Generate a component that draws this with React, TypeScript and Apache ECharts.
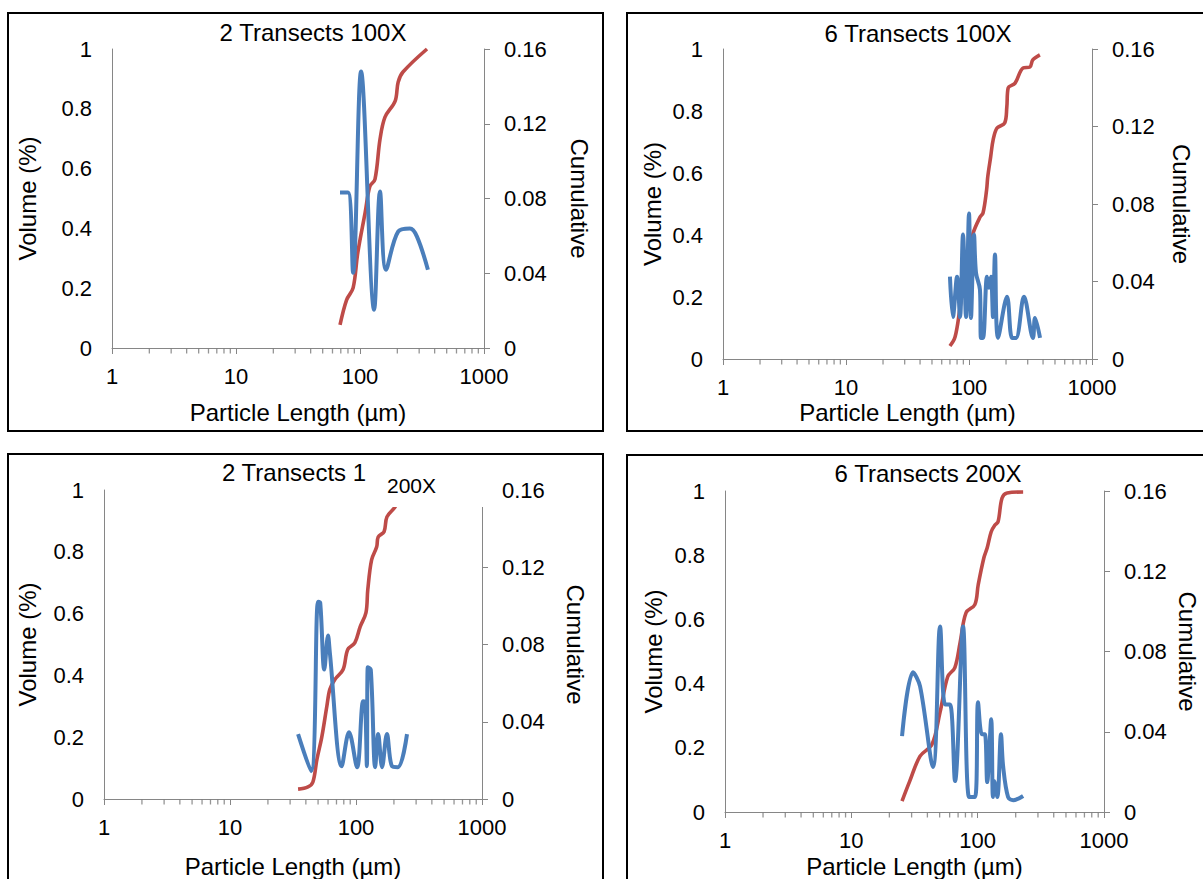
import { useEffect, useRef } from "react";
import * as echarts from "echarts";

// ---------- text ----------
const TITLES = ["2 Transects 100X", "6 Transects 100X", "2 Transects 1", "6 Transects 200X"];
const OVERLAY_LABEL = "200X";
const X_TITLE = "Particle Length (µm)";
const Y_LEFT_TITLE = "Volume (%)";
const Y_RIGHT_TITLE = "Cumulative";

// ---------- axes ----------
const MINOR_TICKS = [2, 3, 4, 5, 6, 7, 8, 9, 20, 30, 40, 50, 60, 70, 80, 90, 200, 300, 400, 500, 600, 700, 800, 900];

// ---------- data: panel 1 (2 Transects 100X) ----------
const BLUE_X_1 = [69, 80, 88, 102, 130, 145, 162, 203, 253, 288, 353];
const BLUE_Y_1 = [0.0832, 0.0832, 0.0403, 0.148, 0.0205, 0.0837, 0.0419, 0.0623, 0.0639, 0.0596, 0.0419];
const RED_X_1 = [69, 78, 88, 96, 110, 120, 132, 145, 159, 192, 203, 222, 347];
const RED_Y_1 = [0.077, 0.161, 0.201, 0.319, 0.453, 0.54, 0.564, 0.698, 0.772, 0.826, 0.889, 0.923, 1.0];

// ---------- data: panel 2 (6 Transects 100X) ----------
const BLUE_X_2 = [70, 74, 80, 84.5, 89.4, 94.6, 100, 103.8, 109.9, 114, 122.8, 125.2, 130, 140, 145.5, 151, 156.7, 162.6, 172.2, 203.8, 223.8, 241, 280, 331, 344, 378];
const BLUE_Y_2 = [0.0425, 0.0217, 0.0425, 0.0217, 0.0642, 0.0217, 0.0751, 0.0212, 0.0642, 0.0445, 0.0357, 0.0109, 0.0109, 0.0425, 0.0368, 0.0425, 0.0217, 0.0539, 0.0109, 0.0321, 0.0109, 0.0109, 0.0321, 0.0109, 0.0212, 0.0109];
const RED_X_2 = [70, 77, 84, 96, 108, 123, 130, 139, 142, 150, 157, 169, 195, 203, 208, 237, 275, 313, 330, 377];
const RED_Y_2 = [0.042, 0.071, 0.158, 0.319, 0.406, 0.458, 0.471, 0.545, 0.587, 0.652, 0.706, 0.745, 0.761, 0.813, 0.874, 0.89, 0.939, 0.942, 0.965, 0.981];

// ---------- data: panel 3 (2 Transects 200X) ----------
const BLUE_X_3 = [34.7, 44, 50, 52, 56, 60, 62, 77, 88, 102, 114, 118, 122, 124, 131, 142, 150, 161, 176, 193, 215, 254];
const BLUE_Y_3 = [0.0336, 0.0144, 0.1022, 0.1016, 0.067, 0.0846, 0.0758, 0.017, 0.0346, 0.0165, 0.0506, 0.0501, 0.017, 0.0682, 0.067, 0.0165, 0.0336, 0.0165, 0.0336, 0.017, 0.0165, 0.0336];
const RED_X_3 = [34.7, 41.6, 45.5, 49, 53.5, 58.7, 62, 68, 79, 86, 98, 108, 120, 124, 133, 146, 150, 167, 176, 204, 230, 254];
const RED_Y_3 = [0.032, 0.039, 0.055, 0.129, 0.2, 0.3, 0.355, 0.387, 0.419, 0.484, 0.506, 0.558, 0.603, 0.677, 0.774, 0.816, 0.848, 0.865, 0.913, 0.945, 0.985, 1.0];

// ---------- data: panel 4 (6 Transects 200X) ----------
const BLUE_X_4 = [25.2, 30.8, 35, 44.3, 50.4, 55.2, 60.4, 66.2, 76.6, 85.5, 95.3, 100.7, 108, 114, 119, 128, 132, 135, 143, 153, 159, 174, 191, 229];
const BLUE_Y_4 = [0.0378, 0.0696, 0.0626, 0.0224, 0.0925, 0.0536, 0.0536, 0.0154, 0.0925, 0.0075, 0.0075, 0.0547, 0.0387, 0.0387, 0.0149, 0.0462, 0.0075, 0.0154, 0.0075, 0.0387, 0.0229, 0.0075, 0.0059, 0.008];
const RED_X_4 = [25.2, 29, 35, 43.5, 50.4, 58, 66, 72.6, 81, 95, 101, 112, 119, 128, 137, 145, 156, 171, 229];
const RED_Y_4 = [0.034, 0.096, 0.174, 0.211, 0.311, 0.422, 0.45, 0.528, 0.621, 0.646, 0.708, 0.792, 0.823, 0.873, 0.894, 0.904, 0.978, 0.994, 0.997];

const SERIES_DATA = [
  { bx: BLUE_X_1, by: BLUE_Y_1, rx: RED_X_1, ry: RED_Y_1 },
  { bx: BLUE_X_2, by: BLUE_Y_2, rx: RED_X_2, ry: RED_Y_2 },
  { bx: BLUE_X_3, by: BLUE_Y_3, rx: RED_X_3, ry: RED_Y_3 },
  { bx: BLUE_X_4, by: BLUE_Y_4, rx: RED_X_4, ry: RED_Y_4 },
];

// ---------- layout ----------
const LAYOUT = [
  { grid: { left: 112, top: 49, width: 372, height: 299 }, border: [8, 13, 595, 418], title: [313, 32, "center"], gapL: 73, gapR: 83, gapX: 52 },
  { grid: { left: 723, top: 49, width: 369, height: 310 }, border: [627, 13, 620, 418], title: [918, 33, "center"], gapL: 59, gapR: 77, gapX: 41 },
  { grid: { left: 104, top: 490, width: 378, height: 310 }, border: [8, 454, 595, 500], title: [222, 472, "left"], gapL: 65, gapR: 81, gapX: 55 },
  { grid: { left: 725, top: 491, width: 379, height: 322 }, border: [627, 455, 620, 500], title: [928, 473, "center"], gapL: 60, gapR: 71, gapX: 42 },
];

const FONT = "'Liberation Sans', Arial, sans-serif";
const AXIS_COLOR = "#868686";
const BLUE = "#4A7EBB";
const RED = "#BE4B48";
const LABEL_SIZE = 22;
const NAME_SIZE = 24;

export default function App() {
  const ref = useRef<HTMLDivElement>(null);

  useEffect(() => {
    if (!ref.current) return;
    const chart = echarts.init(ref.current, null, { renderer: "svg" });

    const grids: any[] = [];
    const xAxes: any[] = [];
    const yAxes: any[] = [];
    const series: any[] = [];
    const graphics: any[] = [];

    LAYOUT.forEach((p, i) => {
      grids.push({ ...p.grid, containLabel: false });
      xAxes.push({
        type: "log",
        logBase: 10,
        gridIndex: i,
        min: 1,
        max: 1000,
        axisLine: { show: true, lineStyle: { color: AXIS_COLOR, width: 1 } },
        axisTick: { show: true, length: 6, lineStyle: { color: AXIS_COLOR } },
        splitLine: { show: false },
        axisLabel: {
          fontSize: LABEL_SIZE,
          color: "#000",
          margin: 17,
          fontFamily: FONT,
          formatter: (v: number) => String(Math.round(v)),
        },
        name: X_TITLE,
        nameLocation: "middle",
        nameGap: p.gapX,
        nameTextStyle: { fontSize: NAME_SIZE, color: "#000", fontFamily: FONT },
      });
      yAxes.push({
        type: "value",
        gridIndex: i,
        position: "left",
        min: 0,
        max: 1,
        interval: 0.2,
        axisLine: { show: true, lineStyle: { color: AXIS_COLOR, width: 1 } },
        axisTick: { show: false },
        splitLine: { show: false },
        axisLabel: { fontSize: LABEL_SIZE, color: "#000", margin: 20, fontFamily: FONT },
        name: Y_LEFT_TITLE,
        nameLocation: "middle",
        nameGap: p.gapL,
        nameRotate: 90,
        nameTextStyle: { fontSize: NAME_SIZE, color: "#000", fontFamily: FONT },
      });
      yAxes.push({
        type: "value",
        gridIndex: i,
        position: "right",
        min: 0,
        max: 0.16,
        interval: 0.04,
        axisLine: { show: true, lineStyle: { color: AXIS_COLOR, width: 1 } },
        axisTick: { show: true, inside: false, length: 6, lineStyle: { color: AXIS_COLOR } },
        splitLine: { show: false },
        axisLabel: { fontSize: LABEL_SIZE, color: "#000", margin: 20, fontFamily: FONT },
        name: Y_RIGHT_TITLE,
        nameLocation: "middle",
        nameGap: p.gapR,
        nameRotate: -90,
        nameTextStyle: { fontSize: NAME_SIZE, color: "#000", fontFamily: FONT },
      });

      const d = SERIES_DATA[i];
      series.push({
        type: "scatter",
        xAxisIndex: i,
        yAxisIndex: 2 * i,
        data: MINOR_TICKS.map((v) => [v, 0]),
        symbol: "rect",
        symbolSize: [1.3, 5],
        symbolOffset: [0, 3],
        itemStyle: { color: "#7a7a7a" },
        silent: true,
        clip: false,
        z: 1,
      });
      series.push({
        type: "line",
        name: "Cumulative",
        xAxisIndex: i,
        yAxisIndex: 2 * i,
        data: d.rx.map((x, k) => [x, d.ry[k]]),
        smooth: 0.35,
        symbol: "none",
        clip: false,
        lineStyle: { color: RED, width: 3.6 },
        z: 2,
      });
      series.push({
        type: "line",
        name: "Volume",
        xAxisIndex: i,
        yAxisIndex: 2 * i + 1,
        data: d.bx.map((x, k) => [x, d.by[k]]),
        smooth: 0.35,
        symbol: "none",
        clip: false,
        lineStyle: { color: BLUE, width: 4 },
        z: 3,
      });

      const [bx, by, bw, bh] = p.border;
      graphics.push({
        type: "rect",
        shape: { x: bx, y: by, width: bw, height: bh },
        style: { fill: "none", stroke: "#000", lineWidth: 2 },
        z: 50,
        silent: true,
      });
      const [tx, ty, ta] = p.title as [number, number, string];
      graphics.push({
        type: "text",
        x: tx,
        y: ty,
        style: { text: TITLES[i], fill: "#000", font: `${NAME_SIZE}px ${FONT}`, textAlign: ta, textVerticalAlign: "middle" },
        z: 60,
        silent: true,
      });
    });

    // white label box covering top of panel 3
    graphics.push({
      type: "rect",
      shape: { x: 368, y: 457, width: 121, height: 50 },
      style: { fill: "#fff", stroke: "none" },
      z: 70,
      silent: true,
    });
    graphics.push({
      type: "text",
      x: 387,
      y: 485,
      style: { text: OVERLAY_LABEL, fill: "#000", font: `21px ${FONT}`, textAlign: "left", textVerticalAlign: "middle" },
      z: 80,
      silent: true,
    });

    chart.setOption({
      animation: false,
      backgroundColor: "#fff",
      grid: grids,
      xAxis: xAxes,
      yAxis: yAxes,
      series,
      graphic: { elements: graphics },
    });

    return () => chart.dispose();
  }, []);

  return (
    <div
      ref={ref}
      style={{ position: "absolute", left: 0, top: 0, width: 1203, height: 879, background: "#fff" }}
    />
  );
}
